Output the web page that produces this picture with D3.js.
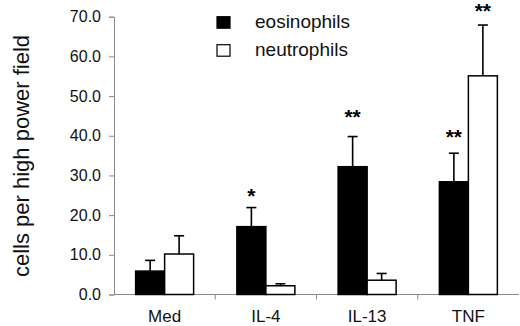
<!DOCTYPE html>
<html>
<head>
<meta charset="utf-8">
<script src="https://cdn.jsdelivr.net/npm/d3@7"></script>
<style>
  html, body { margin: 0; padding: 0; background: #fff; }
  svg { display: block; font-family: "Liberation Sans", Arial, sans-serif; }
</style>
</head>
<body>
<svg id="chart" width="520" height="326"></svg>
<script>
const categories = ["Med", "IL-4", "IL-13", "TNF"];
const seriesNames = ["eosinophils", "neutrophils"];
const eosinophils = [5.9, 17.1, 32.2, 28.4];
const eosinophilsErr = [2.7, 4.8, 7.6, 7.2];
const neutrophils = [10.2, 2.2, 3.6, 55.1];
const neutrophilsErr = [4.6, 0.5, 1.7, 12.8];
const eosinophilsSig = ["", "*", "**", "**"];
const neutrophilsSig = ["", "", "", "**"];
const eosinophilsSigLevel = [null, 26.1, 46.0, 41.0];
const neutrophilsSigLevel = [null, null, null, 72.6];
const yTicks = [0, 10, 20, 30, 40, 50, 60, 70];

const svg = d3.select("#chart");
const axisColor = "#8a8a8a";

const x0 = d3.scaleBand().domain(categories).range([114, 519]).padding(0);
const x1 = d3.scaleBand().domain(seriesNames).range([0, x0.bandwidth()]).paddingInner(0).paddingOuter(0.746);
const y = d3.scaleLinear().domain([0, 70]).range([294.5, 16.7]);

// Y axis
const yAxis = d3.axisLeft(y).tickValues(yTicks).tickFormat(d3.format(".1f")).tickSize(5).tickPadding(8);
const gy = svg.append("g").attr("transform", "translate(114,0)").call(yAxis);
gy.select(".domain").attr("stroke", axisColor).attr("stroke-width", 1);
gy.selectAll(".tick line").attr("stroke", axisColor);
gy.selectAll(".tick text").attr("fill", "#111").style("font-size", "16px")
  .style("font-family", "'Liberation Sans', Arial, sans-serif");

// X axis
const xTickPos = categories.map(c => x0(c)).concat([x0.range()[1]]);
const gx = svg.append("g").attr("transform", "translate(0,294.5)");
gx.append("line").attr("x1", 114).attr("x2", 519).attr("y1", 0).attr("y2", 0)
  .attr("stroke", axisColor).attr("stroke-width", 1);
gx.selectAll("line.tk").data(xTickPos.slice(1, 4)).enter().append("line").attr("class", "tk")
  .attr("x1", d => d).attr("x2", d => d).attr("y1", 0).attr("y2", 5)
  .attr("stroke", axisColor);
gx.selectAll("text").data(categories).enter().append("text")
  .attr("x", d => x0(d) + x0.bandwidth() / 2).attr("y", 27.5)
  .attr("text-anchor", "middle").attr("fill", "#111").style("font-size", "17px")
  .text(d => d);

// Bars
const data = categories.map((c, i) => [
  { cat: c, s: "eosinophils", v: eosinophils[i], e: eosinophilsErr[i], sig: eosinophilsSig[i], sl: eosinophilsSigLevel[i] },
  { cat: c, s: "neutrophils", v: neutrophils[i], e: neutrophilsErr[i], sig: neutrophilsSig[i], sl: neutrophilsSigLevel[i] }
]).flat();

const fills = { eosinophils: "#000", neutrophils: "#fff" };

// error bars first (behind bars)
const eb = svg.append("g");
data.forEach(d => {
  const cx = x0(d.cat) + x1(d.s) + x1.bandwidth() / 2;
  eb.append("line").attr("x1", cx).attr("x2", cx).attr("y1", y(d.v)).attr("y2", y(d.v + d.e))
    .attr("stroke", "#000").attr("stroke-width", 1.6);
  eb.append("line").attr("x1", cx - 5).attr("x2", cx + 5).attr("y1", y(d.v + d.e)).attr("y2", y(d.v + d.e))
    .attr("stroke", "#000").attr("stroke-width", 1.6);
});

svg.append("g").selectAll("rect").data(data).enter().append("rect")
  .attr("x", d => x0(d.cat) + x1(d.s))
  .attr("y", d => y(d.v))
  .attr("width", x1.bandwidth())
  .attr("height", d => y(0) - y(d.v))
  .attr("fill", d => fills[d.s])
  .attr("stroke", "#000").attr("stroke-width", 1.5);

// significance marks
svg.append("g").selectAll("text").data(data.filter(d => d.sig)).enter().append("text")
  .attr("x", d => x0(d.cat) + x1(d.s) + x1.bandwidth() / 2)
  .attr("y", d => y(d.sl) + 12)
  .attr("text-anchor", "middle").attr("fill", "#000")
  .style("font-size", "21px").style("font-weight", "bold")
  .text(d => d.sig);

// Legend
const lg = svg.append("g");
seriesNames.forEach((s, i) => {
  const yy = 16.7 + i * 28;
  lg.append("rect").attr("x", 217).attr("y", yy).attr("width", 13).attr("height", 11.5)
    .attr("fill", fills[s]).attr("stroke", "#000").attr("stroke-width", 1.2);
  lg.append("text").attr("x", 255).attr("y", yy + 10.8).attr("fill", "#111")
    .style("font-size", "19px").text(s);
});

// Y label
svg.append("text")
  .attr("transform", "translate(29,156) rotate(-90)")
  .attr("text-anchor", "middle").attr("fill", "#111")
  .style("font-size", "22px")
  .text("cells per high power field");
</script>
</body>
</html>
